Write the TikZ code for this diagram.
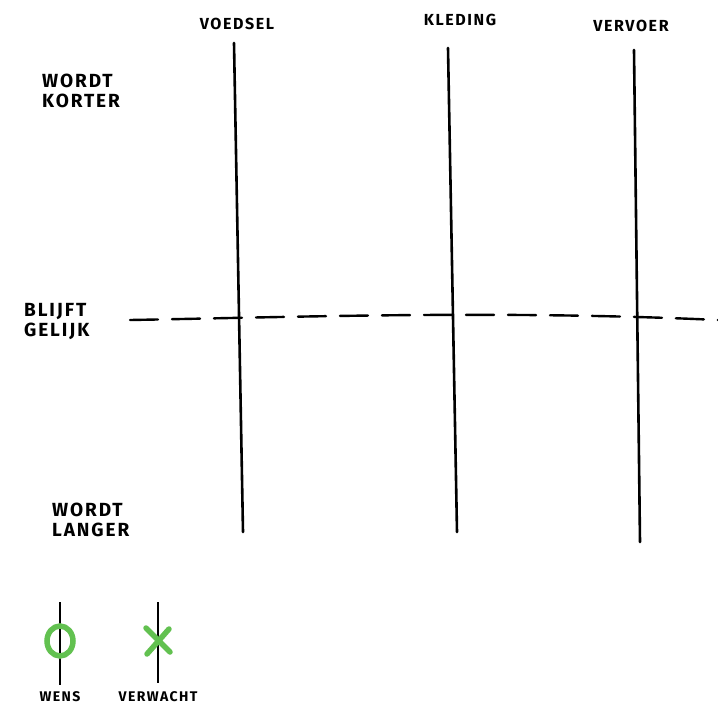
\documentclass[tikz,border=0pt]{standalone}
\usepackage{fontspec}
\setmainfont{Fira Sans}[LetterSpace=10]
\usetikzlibrary{shapes.geometric}
\begin{document}
\begin{tikzpicture}[x=1pt,y=-1pt,
  lbl/.style={font=\fontsize{19}{20}\selectfont\bfseries, align=left, text=black, inner sep=0pt},
  hdr/.style={font=\fontsize{16}{17}\selectfont\bfseries, text=black, inner sep=0pt},
  axis/.style={line width=2.6pt, black, line cap=round},
  xmark/.style={line width=5.5pt, color=wgreen, line cap=round},
  leg/.style={font=\fontsize{14}{15}\selectfont\bfseries, inner sep=0pt}]
\definecolor{wgreen}{HTML}{62C150}
\useasboundingbox (0,0) rectangle (718,707);
\fill[white] (0,0) rectangle (718,707);
% headers
\node[hdr] (h1) at (237,24) {VOEDSEL};
\node[hdr] (h2) at (460,20) {KLEDING};
\node[hdr] (h3) at (631,26) {VERVOER};
% row labels
\node[lbl, anchor=west] (r1) at (42,91) {WORDT\\KORTER};
\node[lbl, anchor=west] (r2) at (24,322) {BLIJFT\\GELIJK};
\node[lbl, anchor=west] (r3) at (52,520) {WORDT\\LANGER};
% axes
\coordinate (a1t) at (234,43); \coordinate (a1b) at (243,532);
\coordinate (a2t) at (448,48); \coordinate (a2b) at (457,532);
\coordinate (a3t) at (634,50); \coordinate (a3b) at (640,542);
\draw[axis] (a1t) -- (a1b);
\draw[axis] (a2t) -- (a2b);
\draw[axis] (a3t) -- (a3b);
% dashed line
\coordinate (d0) at (130,320); \coordinate (d1) at (300,317);
\coordinate (d2) at (500,310); \coordinate (d3) at (718,320);
\draw[line width=2.4pt, black, dash pattern=on 28pt off 14pt, line cap=round]
  (d0) .. controls (d1) and (d2) .. (d3);
% legend
\coordinate (w1) at (60,602); \coordinate (w2) at (60,685);
\coordinate (v1) at (158,602); \coordinate (v2) at (158,683);
\draw[line width=2.4pt, black] (w1) -- (w2);
\draw[line width=2.4pt, black] (v1) -- (v2);
\node[draw=wgreen, line width=5.5pt, ellipse, minimum width=26pt, minimum height=30pt, inner sep=0pt] (wc) at (60,641) {};
\coordinate (x1) at (146,628); \coordinate (x2) at (170,652);
\coordinate (x3) at (169,629); \coordinate (x4) at (147,654);
\draw[xmark] (x1) -- (x2);
\draw[xmark] (x3) -- (x4);
\node[leg] (wl) at (60,697) {WENS};
\node[leg] (vl) at (158,697) {VERWACHT};
\end{tikzpicture}
\end{document}
